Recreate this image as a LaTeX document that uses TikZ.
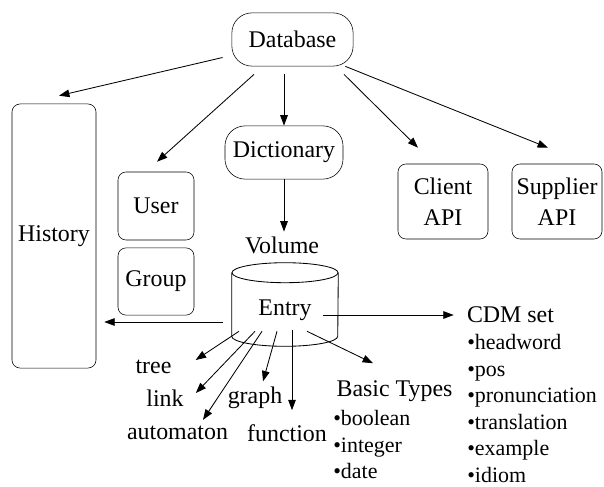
\documentclass[tikz,border=0pt]{standalone}
\usepackage{fontspec}
\setmainfont{Liberation Serif}
\usetikzlibrary{positioning,calc,arrows.meta}

\begin{document}
\begin{tikzpicture}[
  x=0.025cm, y=-0.025cm,
  every node/.style={font=\fontsize{17}{19.2}\selectfont},
  pill/.style={rectangle, draw, rounded corners=0.5cm, minimum width=3cm, minimum height=1.33cm, inner sep=0pt},
  box/.style={rectangle, draw, rounded corners=0.2cm, minimum width=1.9cm, inner sep=0pt, align=center},
  apibox/.style={box, minimum width=2.25cm, minimum height=1.875cm, font=\fontsize{17}{22}\selectfont},
  txt/.style={inner sep=0pt},
  list/.style={inner sep=0pt, anchor=north west, align=left, font=\fontsize{15.6}{18.9}\selectfont},
  arrow/.style={-{Triangle[length=2.6mm, width=1.9mm]}, line width=0.6pt}
]
\useasboundingbox (0,0) rectangle (604,486);
\node[pill, minimum width=3.03cm] (db) at (292.5,39.5) {Database};
\node[pill, minimum width=2.95cm] (dict) at (284,152.5) {Dictionary};
\node[box, minimum width=2.1cm, minimum height=6.6cm] (hist) at (54,236) {History};
\node[box, minimum height=1.7cm] (user) at (156,206) {User};
\node[box, minimum height=1.68cm] (group) at (156,281.5) {Group};
\node[apibox] (client) at (443,201.5) {Client\\API};
\node[apibox] (supplier) at (557,201.5) {Supplier\\API};
\node (vol) at (282,245) {Volume};
% cylinder around the entry node
\node[txt, minimum width=2.65cm, minimum height=2.075cm, text height=0.65cm, text depth=0.125cm] (entry) at (285,304.5) {Entry};
\draw[line width=0.6pt] ($(entry.north west)+(0,10)$) -- ($(entry.south west)+(0,-10)$)
  arc[start angle=180, end angle=360, x radius=1.325cm, y radius=0.25cm] -- ($(entry.north east)+(0,10)$);
\draw[line width=0.6pt] ($(entry.north)+(0,10)$) ellipse[x radius=1.325cm, y radius=0.25cm];
\node[txt] (tree) at (153.5,367) {tree};
\node[txt] (link) at (165,398) {link};
\node[txt] (graph) at (255,398) {graph};
\node[txt] (automaton) at (177.5,433) {automaton};
\node[txt] (function) at (287,433) {function};
\node[txt] (basic) at (394.5,391) {Basic Types};
\node[list] (basiclist) at (333,410) {\textbullet boolean\\\textbullet integer\\\textbullet date};
\node[txt] (cdm) at (510.5,315) {CDM set};
\node[list] (cdmlist) at (467,334) {\textbullet headword\\\textbullet pos\\\textbullet pronunciation\\\textbullet translation\\\textbullet example\\\textbullet idiom};
\draw[arrow] ([shift={(-9,18)}]db.west) -- ([shift={(5,-8)}]hist.north);
\draw[arrow] ([shift={(-38.5,8)}]db.south) -- ([shift={(1,-10)}]user.north);
\draw[arrow] ([shift={(-8.5,8)}]db.south) -- (dict.north);
\draw[arrow] ([shift={(51.5,8)}]db.south) -- ([shift={(-25,-16)}]client.north);
\draw[arrow] ([shift={(-8,0)}]db.south east) -- ([shift={(-9,-16)}]supplier.north);
\draw[arrow] (dict.south) -- (dict.south |- vol.north);
\draw[arrow] ([shift={(-9,17.5)}]entry.west) -- ($(entry.west -| hist.east)+(8,17.5)$);
\draw[arrow] ($(entry.east |- cdm.west)+(-15,0)$) -- ($(cdm.west)+(-13,0)$);
\draw[arrow] ([shift={(-46,-15)}]entry.south) -- ([shift={(24,-7)}]tree.east);
\draw[arrow] ([shift={(-30,-15)}]entry.south) -- ([shift={(12,-5)}]link.east);
\draw[arrow] ([shift={(-23,-15)}]entry.south) -- ([shift={(25.5,-6)}]automaton.north);
\draw[arrow] ([shift={(-8,-15)}]entry.south) -- ([shift={(8,-5.5)}]graph.north);
\draw[arrow] ([shift={(7,-16)}]entry.south) -- ([shift={(5,-14)}]function.north);
\draw[arrow] ([shift={(22,-15)}]entry.south) -- ([shift={(-21.5,-17)}]basic.north);
\end{tikzpicture}
\end{document}
